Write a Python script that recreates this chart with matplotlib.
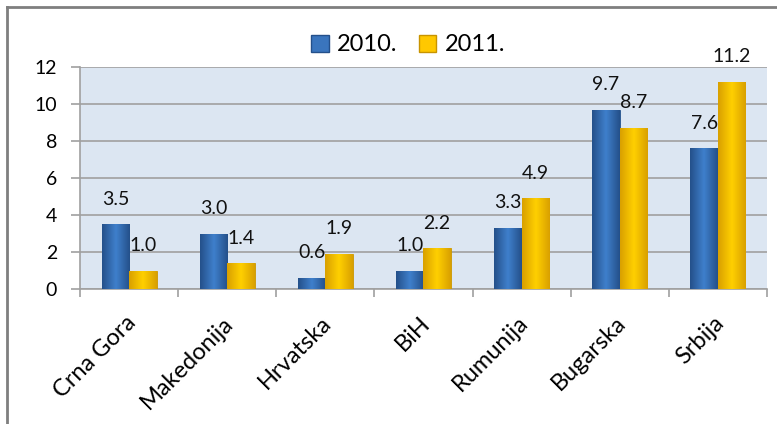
import numpy as np
import matplotlib
matplotlib.use("Agg")
import matplotlib.pyplot as plt
import matplotlib.transforms as mtransforms
from matplotlib.lines import Line2D
from matplotlib.patches import Patch

countries = ['Crna Gora', 'Makedonija', 'Hrvatska', 'BiH', 'Rumunija', 'Bugarska', 'Srbija']
vals_2010 = [3.5, 3.0, 0.6, 1.0, 3.3, 9.7, 7.6]
vals_2011 = [1.0, 1.4, 1.9, 2.2, 4.9, 8.7, 11.2]
series_names = ['2010.', '2011.']

plt.rcParams['font.family'] = ['Lato', 'DejaVu Sans']

blue_grad = ['#24508a', '#3f80cc', '#24508a']
yellow_grad = ['#d9a000', '#ffd000', '#d9a000']


def shade_bars(ax, bars, cols):
    # horizontal gradient clipped to each bar, to mimic the Excel bevel
    cmap = matplotlib.colors.LinearSegmentedColormap.from_list('g', cols)
    grad = np.linspace(0, 1, 64).reshape(1, -1)
    for b in bars:
        x0, y0 = b.get_x(), b.get_y()
        w, h = b.get_width(), b.get_height()
        im = ax.imshow(grad, cmap=cmap, aspect='auto', extent=[x0, x0 + w, y0, y0 + h],
                       zorder=b.get_zorder() + 0.1)
        im.set_clip_path(b)


fig = plt.figure(figsize=(7.77, 4.24), dpi=100)
ax = fig.add_axes([0.103, 0.318, 0.884, 0.524])
ax.set_facecolor('#dce6f2')

x = np.arange(len(countries))
w = 0.28
b1 = ax.bar(x - w / 2, vals_2010, w, color='#3a75bd', edgecolor='#24508a', linewidth=0.6, zorder=3)
b2 = ax.bar(x + w / 2, vals_2011, w, color='#ffc800', edgecolor='#c89400', linewidth=0.6, zorder=3)
shade_bars(ax, b1, blue_grad)
shade_bars(ax, b2, yellow_grad)

for bars, vals in ((b1, vals_2010), (b2, vals_2011)):
    for b, v in zip(bars, vals):
        ax.annotate('%.1f' % v, (b.get_x() + b.get_width() / 2, v), xytext=(0, 12),
                    textcoords='offset points', ha='center', va='bottom', fontsize=14,
                    color='#111111', zorder=5)

ax.set_xlim(-0.5, len(countries) - 0.5)
ax.set_ylim(0, 12)
ax.set_yticks(np.arange(0, 13, 2))
ax.yaxis.grid(True, color='#a0a0a0', linewidth=1.2, zorder=0)
ax.set_axisbelow(True)

ax.set_xticks(x)
ax.set_xticklabels(countries, rotation=45, ha='right', va='center', rotation_mode='anchor', fontsize=17)
ax.tick_params(axis='x', length=0, pad=22)
shift = mtransforms.ScaledTranslation(3 / 100, 0, fig.dpi_scale_trans)
for lbl in ax.get_xticklabels():
    lbl.set_transform(lbl.get_transform() + shift)
ax.set_xticks(np.arange(-0.5, len(countries), 1), minor=True)
ax.tick_params(axis='x', which='minor', length=6, color='#a0a0a0', width=1.2)
ax.tick_params(axis='y', length=6.5, color='#a0a0a0', width=1.2, labelsize=14, pad=10)

for s in ('top', 'right'):
    ax.spines[s].set_visible(False)
for s in ('left', 'bottom'):
    ax.spines[s].set_color('#a0a0a0')
    ax.spines[s].set_linewidth(1.2)

handles = [Patch(facecolor='#3a75bd', edgecolor='#24508a'), Patch(facecolor='#ffc800', edgecolor='#c89400')]
fig.legend(handles, series_names, loc='center', bbox_to_anchor=(0.525, 0.894), ncol=2, frameon=False,
           fontsize=17, handlelength=0.75, handleheight=0.75, handletextpad=0.35, columnspacing=0.9)

# outer chart frame (cut off at right and bottom in the reference)
fig.add_artist(Line2D([0.009, 1.0], [0.984, 0.984], color='#7f7f7f', linewidth=2, transform=fig.transFigure))
fig.add_artist(Line2D([0.009, 0.009], [0.0, 0.984], color='#7f7f7f', linewidth=2, transform=fig.transFigure))

fig.savefig('out.png', dpi=100)
